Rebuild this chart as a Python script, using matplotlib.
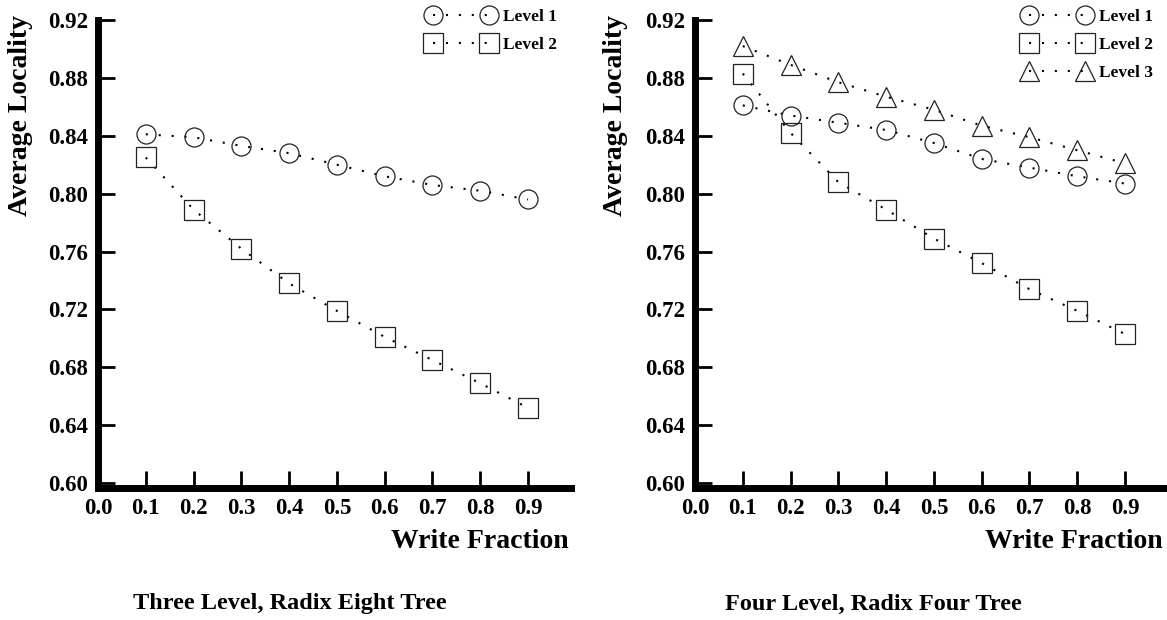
import matplotlib
matplotlib.use("Agg")
import matplotlib.pyplot as plt

plt.rcParams['font.family'] = ['Liberation Serif', 'DejaVu Serif']
plt.rcParams['font.weight'] = 'bold'

# Data
write_fraction = [0.1, 0.2, 0.3, 0.4, 0.5, 0.6, 0.7, 0.8, 0.9]

three_level_1 = [0.841, 0.839, 0.833, 0.828, 0.820, 0.812, 0.806, 0.802, 0.796]
three_level_2 = [0.825, 0.789, 0.762, 0.738, 0.719, 0.701, 0.685, 0.669, 0.652]

four_level_1 = [0.861, 0.854, 0.849, 0.844, 0.835, 0.824, 0.818, 0.812, 0.807]
four_level_2 = [0.883, 0.842, 0.808, 0.789, 0.769, 0.752, 0.734, 0.719, 0.703]
four_level_3 = [0.902, 0.889, 0.877, 0.867, 0.858, 0.847, 0.839, 0.830, 0.821]

y_ticks = [0.60, 0.64, 0.68, 0.72, 0.76, 0.80, 0.84, 0.88, 0.92]
x_ticks = [0.0, 0.1, 0.2, 0.3, 0.4, 0.5, 0.6, 0.7, 0.8, 0.9]

titles = ["Three Level, Radix Eight Tree", "Four Level, Radix Four Tree"]

W, H = 1167, 620
fig = plt.figure(figsize=(W / 100, H / 100), dpi=100)

line_kw = dict(color='black', linestyle=(0, (1, 5.2)), linewidth=1.5,
               markersize=13.7, markerfacecolor='none',
               markeredgecolor='#222222', markeredgewidth=0.9)


def setup_axes(left_px):
    ax = fig.add_axes([left_px / W, 1 - 488 / H, 473 / W, 468 / H])
    ax.set_xlim(0, 0.99)
    ax.set_ylim(0.5966, 0.92)
    for side in ['top', 'right']:
        ax.spines[side].set_visible(False)
    for side in ['left', 'bottom']:
        ax.spines[side].set_linewidth(5)
        ax.spines[side].set_capstyle('projecting')
    ax.set_xticks(x_ticks)
    ax.set_xticklabels([f"{v:.1f}" for v in x_ticks])
    ax.set_yticks(y_ticks)
    ax.set_yticklabels([f"{v:.2f}" for v in y_ticks])
    ax.tick_params(direction='in', length=12, width=2, labelsize=16.5)
    ax.tick_params(axis='x', pad=7.5)
    ax.tick_params(axis='y', pad=7)
    return ax


ax1 = setup_axes(98)
ax1.plot(write_fraction, three_level_1, marker='o', label='Level 1', clip_on=False, **line_kw)
ax1.plot(write_fraction, three_level_2, marker='s', label='Level 2', clip_on=False, **line_kw)

ax2 = setup_axes(695)
ax2.plot(write_fraction, four_level_1, marker='o', label='Level 1', clip_on=False, **line_kw)
ax2.plot(write_fraction, four_level_2, marker='s', label='Level 2', clip_on=False, **line_kw)
ax2.plot(write_fraction, four_level_3, marker='^', label='Level 3', clip_on=False, **line_kw)

legend_kw = dict(loc='upper right', frameon=False, numpoints=2, handlelength=3.83,
                 handletextpad=0.5, labelspacing=0.68, borderpad=0, borderaxespad=0,
                 prop={'family': 'Liberation Serif', 'weight': 'bold', 'size': 12.5},
                 bbox_transform=fig.transFigure)
ax1.legend(bbox_to_anchor=(557 / W, 1 - 9 / H), **legend_kw)
ax2.legend(bbox_to_anchor=(1153 / W, 1 - 9 / H), **legend_kw)

for ylab_x, xlab_x, title_x, title in [(21, 569, 290, titles[0]),
                                       (615, 1163, 873, titles[1])]:
    fig.text(ylab_x / W, 1 - 116 / H, "Average Locality", rotation=90,
             ha='center', va='center', fontsize=20, fontweight='bold')
    fig.text(xlab_x / W, 1 - 548 / H, "Write Fraction",
             ha='right', va='baseline', fontsize=20, fontweight='bold')
    fig.text(title_x / W, 1 - 604 / H, title,
             ha='center', va='center', fontsize=17.5, fontweight='bold')

fig.savefig("out.png", dpi=100)
